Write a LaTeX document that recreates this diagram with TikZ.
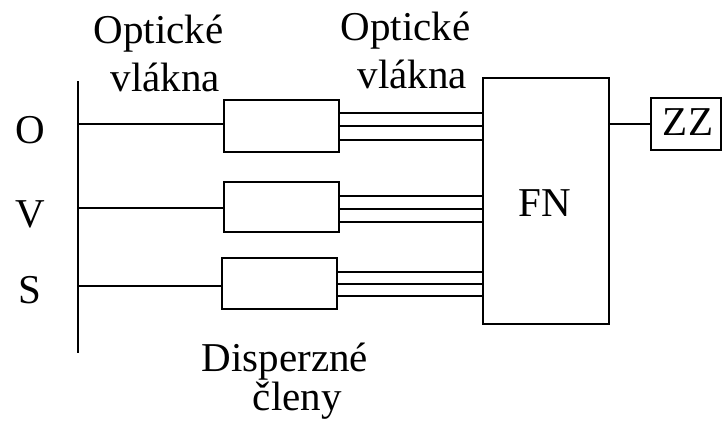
\documentclass[tikz,border=0pt]{standalone}
\usepackage{fontspec}
\setmainfont{Liberation Serif}
\begin{document}
\begin{tikzpicture}[x=1pt,y=-1pt,line width=1.6pt,
  blk/.style={draw,inner sep=0pt,outer sep=0pt},
  lbl/.style={anchor=base,inner sep=0pt,font=\fontsize{41}{41}\selectfont},
  mlbl/.style={anchor=base west,inner sep=0pt,align=left,font=\fontsize{41}{48}\selectfont}]
\useasboundingbox (0,0) rectangle (723,426);
% boxes
\node[blk,minimum width=115pt,minimum height=52pt] (b1) at (281.5,126) {};
\node[blk,minimum width=115pt,minimum height=50pt] (b2) at (281.5,207) {};
\node[blk,minimum width=115pt,minimum height=51pt] (b3) at (279.5,283.5) {};
\node[blk,minimum width=126pt,minimum height=246pt] (fn) at (546,201) {};
\node[lbl] (fnl) at (545,216) {FN};
\node[blk,minimum width=70pt,minimum height=52pt] (zz) at (686,124) {};
\node[lbl] (zzl) at (688,135) {ZZ};
% bus
\coordinate (bt) at (78,81);
\coordinate (bb) at (78,353);
\draw (bt) -- (bb);
\coordinate (i1) at (78,124);
\coordinate (i2) at (78,208);
\coordinate (i3) at (78,286);
\draw (i1) -- (i1 -| b1.west);
\draw (i2) -- (i2 -| b2.west);
\draw (i3) -- (i3 -| b3.west);
% fibre bundles
\foreach \n/\y in {a1/113,a2/126,a3/140,c1/196,c2/209,c3/222,d1/272,d2/284,d3/296} {\coordinate (\n) at (0,\y);}
\foreach \n in {a1,a2,a3} {\draw (b1.east |- \n) -- (fn.west |- \n);}
\foreach \n in {c1,c2,c3} {\draw (b2.east |- \n) -- (fn.west |- \n);}
\foreach \n in {d1,d2,d3} {\draw (b3.east |- \n) -- (fn.west |- \n);}
\coordinate (z) at (0,124);
\draw (fn.east |- z) -- (zz.west);
% labels
\node[lbl] (o) at (30,143) {O};
\node[lbl] (v) at (30,227) {V};
\node[lbl] (s) at (30,303) {S};
\node[mlbl] (ov1) at (93,91) {Optické\\\hspace*{17pt}vlákna};
\node[mlbl] (ov2) at (340,88) {Optické\\\hspace*{17pt}vlákna};
\node[mlbl,font=\fontsize{41}{30}\selectfont] (dc) at (201,410) {Disperzné\\\hspace*{51pt}členy};
\end{tikzpicture}
\end{document}
